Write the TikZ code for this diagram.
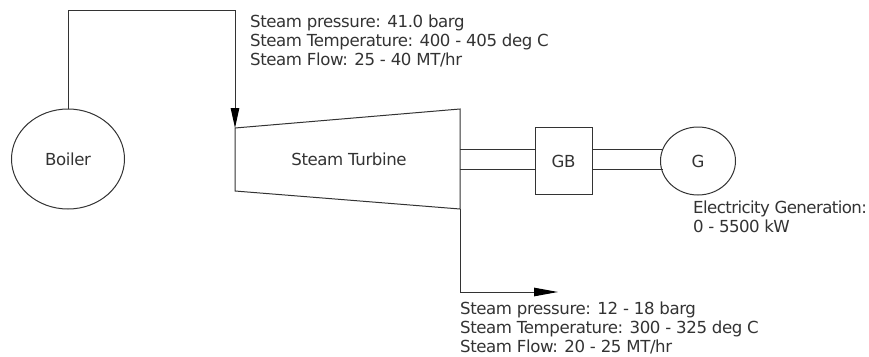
\documentclass[tikz,border=0pt]{standalone}
\usepackage{fontspec}
\setmainfont{DejaVu Sans}
\usetikzlibrary{shapes.geometric,arrows.meta}
\definecolor{ink}{HTML}{333333}
\tikzset{
  lbl/.style={inner sep=0pt,text=ink,font=\fontsize{16.6}{19}\selectfont\addfontfeatures{LetterSpace=-2.5},align=left},
  lbltight/.style={lbl,font=\fontsize{16.6}{19}\selectfont\addfontfeatures{LetterSpace=-3.5}},
  eq/.style={draw=ink,line width=1pt,inner sep=0pt,outer sep=0pt},
  pipe/.style={draw=ink,line width=1pt},
  head/.style={-{Triangle[length=#1,width=8.5pt,black]}}
}
\begin{document}
\begin{tikzpicture}[x=1pt,y=-1pt]
\useasboundingbox (0,0) rectangle (869,356);
\node[eq,ellipse,minimum width=113pt,minimum height=100pt] (boiler) at (68,159) {};
\node[lbl] at (boiler.center) {Boiler};
\coordinate (t1) at (235,128);
\coordinate (t2) at (460,109);
\coordinate (t3) at (460,209);
\coordinate (t4) at (235,191);
\draw[pipe,line join=miter] (t1) -- (t2) -- (t3) -- (t4) -- cycle;
\node[lbl] (turbine) at (349,159) {Steam Turbine};
\node[eq,rectangle,minimum width=57pt,minimum height=67pt] (gb) at (563.5,161) {};
\node[lbl] at (gb.center) {GB};
\node[eq,ellipse,minimum width=75pt,minimum height=68pt] (g) at (698,161) {};
\node[lbl] at (g.center) {G};
\coordinate (s1) at (460,149.5);
\coordinate (s2) at (460,169.5);
\draw[pipe] (s1) -- (s1-|gb.west);
\draw[pipe] (s2) -- (s2-|gb.west);
\draw[pipe] (s1-|gb.east) -- (662.5,149.5);
\draw[pipe] (s2-|gb.east) -- (662.5,169.5);
\coordinate (c1) at (68,10);
\coordinate (c2) at (235,10);
\coordinate (c3) at (460,292);
\coordinate (c4) at (558,292);
\draw[pipe,head=20pt] (boiler.north) -- (c1) -- (c2) -- (t1);
\draw[pipe,head=24pt] (t3) -- (c3) -- (c4);
\node[lbl,anchor=north west] (inlet) at (250,14.5) {Steam pressure: 41.0 barg\\Steam Temperature: 400 - 405 deg C\\Steam Flow: 25 - 40 MT/hr};
\node[lbl,anchor=north west] (outlet) at (460,302) {Steam pressure: 12 - 18 barg\\Steam Temperature: 300 - 325 deg C\\Steam Flow: 20 - 25 MT/hr};
\node[lbltight,anchor=north west] (elec) at (693,201) {Electricity Generation:\\0 - 5500 kW};
\end{tikzpicture}
\end{document}
